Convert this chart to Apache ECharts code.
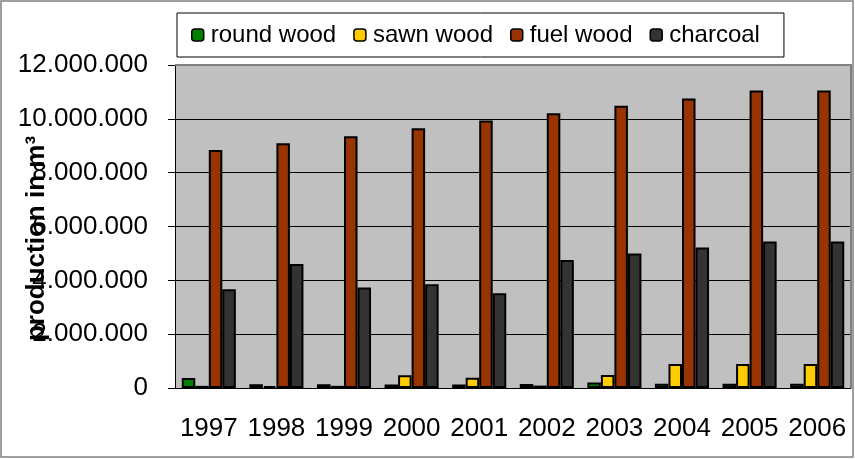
<!DOCTYPE html>
<html>
<head>
<meta charset="utf-8">
<script src="https://cdn.jsdelivr.net/npm/echarts@6/dist/echarts.min.js"></script>
<style>
  html, body { margin: 0; padding: 0; background: #fff; }
  #chart { width: 855px; height: 459px; }
</style>
</head>
<body>
<div id="chart"></div>
<script>
// data (m³)
const years = ['1997', '1998', '1999', '2000', '2001', '2002', '2003', '2004', '2005', '2006']
const roundWood = [370000, 140000, 140000, 130000, 130000, 150000, 200000, 160000, 160000, 160000]
const sawnWood = [80000, 70000, 80000, 470000, 380000, 90000, 480000, 890000, 890000, 890000]
const fuelWood = [8840000, 9090000, 9350000, 9650000, 9940000, 10210000, 10490000, 10760000, 11050000, 11050000]
const charcoal = [3670000, 4610000, 3730000, 3850000, 3520000, 4760000, 5000000, 5220000, 5440000, 5440000]

const FONT = '"Liberation Sans", Arial, sans-serif'

// plot box
const G = { left: 175, top: 65, right: 4, bottom: 71 }
const W = 855, H = 459

function dotted(v) {
  return String(v).replace(/\B(?=(\d{3})+(?!\d))/g, '.')
}

function bar(name, data, color) {
  return {
    name, type: 'bar', data,
    barGap: '0%',
    barCategoryGap: '20%',
    itemStyle: { color, borderColor: '#000', borderWidth: 2 }
  }
}

const chart = echarts.init(document.getElementById('chart'), null, { renderer: 'canvas' })

chart.setOption({
  animation: false,
  textStyle: { fontFamily: FONT },
  legend: {
    left: 177, top: 13,
    padding: [10, 24, 10, 14],
    borderColor: '#000', borderWidth: 1,
    backgroundColor: '#fff',
    itemWidth: 12, itemHeight: 12, itemGap: 17,
    textStyle: { fontSize: 24, color: '#000', padding: [0, 0, 0, 2] },
    itemStyle: { borderColor: '#000', borderWidth: 1.5 }
  },
  grid: {
    left: G.left, top: G.top, right: G.right, bottom: G.bottom,
    outerBoundsMode: 'none',
    containLabel: false,
    show: true, backgroundColor: '#C0C0C0', borderWidth: 0
  },
  xAxis: {
    type: 'category',
    data: years,
    axisLine: { lineStyle: { color: '#000', width: 1 } },
    axisTick: { length: 8, lineStyle: { color: '#000' } },
    axisLabel: { interval: 0, fontSize: 26, color: '#000', margin: 28, fontFamily: FONT },
    splitLine: { show: false }
  },
  yAxis: {
    type: 'value',
    min: 0, max: 12000000, interval: 2000000,
    name: 'production in m³',
    nameLocation: 'middle',
    nameRotate: 90,
    nameGap: 125,
    nameMoveOverlap: false,
    // shifted a little below the axis middle, as in the original
    nameTextStyle: { fontSize: 26, fontWeight: 'bold', color: '#000', fontFamily: FONT, padding: [0, 24, 0, 0] },
    axisLine: { show: true, lineStyle: { color: '#000', width: 1 } },
    axisTick: { show: true, length: 7, lineStyle: { color: '#000' } },
    axisLabel: { fontSize: 26, color: '#000', margin: 27, formatter: dotted, fontFamily: FONT },
    splitLine: { lineStyle: { color: '#000', width: 1 } }
  },
  series: [
    bar('round wood', roundWood, '#008000'),
    bar('sawn wood', sawnWood, '#FFCC00'),
    bar('fuel wood', fuelWood, '#993300'),
    bar('charcoal', charcoal, '#333333')
  ],
  graphic: [
    // outer frame of the chart
    {
      type: 'rect', silent: true, z: 100,
      shape: { x: 1, y: 1, width: W - 3, height: H - 3 },
      style: { fill: null, stroke: '#808080', lineWidth: 1.5 }
    },
    // gray top/right edge of the plot box
    {
      type: 'polyline', silent: true, z: 100,
      shape: { points: [[G.left, G.top], [W - G.right, G.top], [W - G.right, H - G.bottom]] },
      style: { fill: null, stroke: '#808080', lineWidth: 2 }
    }
  ]
})
</script>
</body>
</html>
